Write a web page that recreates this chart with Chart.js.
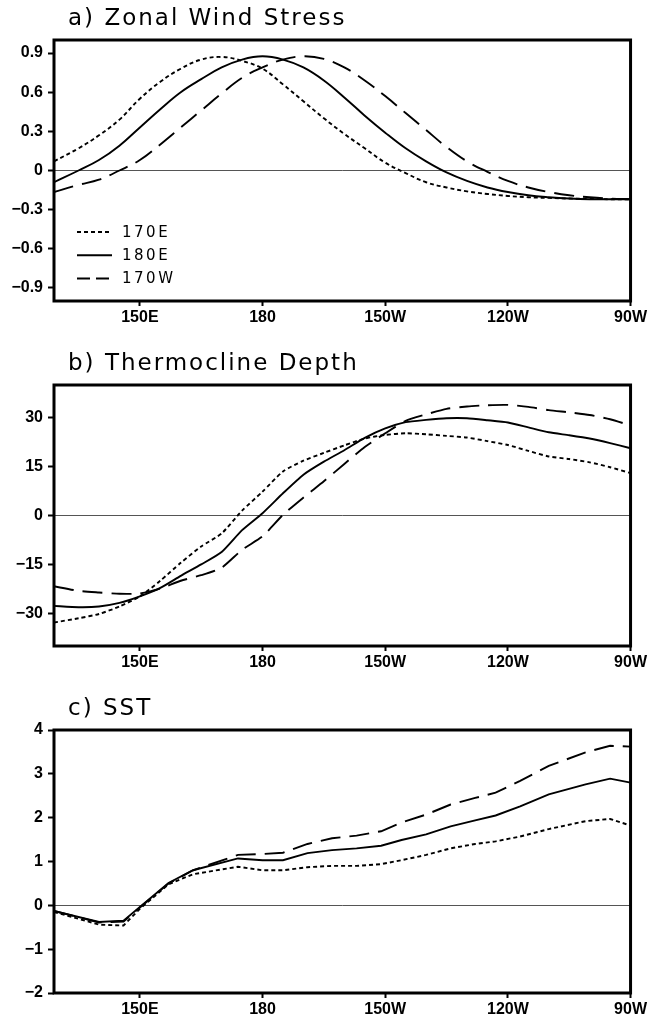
<!DOCTYPE html>
<html>
<head>
<meta charset="utf-8">
<script src="https://cdn.jsdelivr.net/npm/chart.js@4.4.1/dist/chart.umd.min.js"></script>
<style>
html, body { margin: 0; padding: 0; background: #fff; overflow: hidden; }
#wrap { position: relative; width: 649px; height: 1021px; }
canvas { position: absolute; left: 0; }
</style>
</head>
<body>
<div id="wrap">
  <canvas id="chartA" width="649" height="331" style="top:0px"></canvas>
  <canvas id="chartB" width="649" height="331" style="top:345px"></canvas>
  <canvas id="chartC" width="649" height="331" style="top:690px"></canvas>
</div>
<script>
// run names and x axis
const seriesNames = ['170E', '180E', '170W'];
const lonTicks = [150, 180, 210, 240, 270];
const lonLabels = ['150E', '180', '150W', '120W', '90W'];

// a) zonal wind stress
const lonA = [129, 135, 140, 145, 150, 155, 160, 165, 170, 175, 180, 185, 190, 195, 200,
              205, 210, 215, 220, 225, 230, 235, 240, 245, 250, 255, 260, 265, 270];
const stress170E = [0.07, 0.17, 0.27, 0.39, 0.55, 0.68, 0.78, 0.85, 0.87, 0.84, 0.78, 0.66, 0.53, 0.40, 0.28,
                    0.17, 0.06, -0.02, -0.09, -0.13, -0.16, -0.18, -0.195, -0.205, -0.21, -0.215, -0.218, -0.22, -0.22];
const stress180E = [-0.09, 0.0, 0.08, 0.19, 0.33, 0.47, 0.60, 0.70, 0.79, 0.85, 0.875, 0.85, 0.79, 0.69, 0.56,
                    0.42, 0.29, 0.17, 0.07, -0.015, -0.08, -0.13, -0.165, -0.19, -0.205, -0.215, -0.22, -0.22, -0.22];
const stress170W = [-0.165, -0.11, -0.07, 0.0, 0.08, 0.20, 0.33, 0.46, 0.59, 0.71, 0.79, 0.85, 0.875, 0.855, 0.79,
                    0.69, 0.57, 0.44, 0.31, 0.18, 0.07, -0.01, -0.08, -0.13, -0.165, -0.19, -0.205, -0.215, -0.22];
const ticksA = [-0.9, -0.6, -0.3, 0, 0.3, 0.6, 0.9];

// b) thermocline depth
const lonB = lonA;
const depth170E = [-32.8, -31.5, -30.2, -27.9, -24.8, -20.0, -14.5, -9.5, -5.5, 1.5, 7.3, 13.5, 16.8, 19.2, 21.5,
                   23.6, 24.7, 25.2, 24.9, 24.4, 23.9, 22.8, 21.6, 19.8, 18.1, 17.3, 16.3, 14.8, 13.0];
const depth180E = [-27.7, -28.1, -27.9, -26.8, -24.8, -22.2, -18.5, -15.0, -11.2, -4.5, 0.7, 6.8, 12.5, 16.5, 20.0,
                   23.8, 26.7, 28.6, 29.3, 29.8, 29.8, 29.2, 28.5, 27.0, 25.5, 24.6, 23.6, 22.2, 20.6];
const depth170W = [-21.7, -23.1, -23.6, -24.0, -23.9, -22.4, -20.0, -18.3, -16.0, -10.5, -6.4, 0.2, 5.5, 10.5, 15.8,
                   21.0, 25.2, 29.0, 31.0, 32.7, 33.4, 33.8, 33.9, 33.3, 32.3, 31.6, 30.8, 29.5, 27.6];
const ticksB = [-30, -15, 0, 15, 30];

// c) SST
const lonC = [129, 140, 146, 150, 157, 163, 174, 180, 185, 191, 197, 203, 209, 214, 220, 226, 232, 237, 243, 250, 259, 265, 270];
const sst170E = [-0.15, -0.44, -0.46, -0.08, 0.48, 0.71, 0.88, 0.80, 0.80, 0.87, 0.90, 0.90, 0.94, 1.03, 1.15, 1.30, 1.40, 1.46, 1.57, 1.74, 1.92, 1.97, 1.82];
const sst180E = [-0.13, -0.38, -0.35, -0.04, 0.51, 0.80, 1.07, 1.03, 1.03, 1.19, 1.26, 1.30, 1.36, 1.49, 1.62, 1.80, 1.94, 2.05, 2.26, 2.53, 2.76, 2.89, 2.80];
const sst170W = [-0.13, -0.39, -0.37, -0.05, 0.50, 0.80, 1.15, 1.17, 1.20, 1.40, 1.53, 1.59, 1.69, 1.89, 2.07, 2.30, 2.45, 2.57, 2.84, 3.18, 3.49, 3.64, 3.62];
const ticksC = [-2, -1, 0, 1, 2, 3, 4];

const dashes = [[4, 3], [], [20, 9]];
const legendDashes = [[4, 3], [], [13, 6]];

// box, title and legend drawn on top of the chart area
const framePlugin = {
    id: 'frame',
    afterDraw(chart, args, opts) {
        const ctx = chart.ctx;
        const a = chart.chartArea;
        ctx.save();
        ctx.lineWidth = 3;
        ctx.strokeStyle = '#000';
        ctx.strokeRect(a.left, a.top, a.right - a.left, a.bottom - a.top);

        ctx.fillStyle = '#000';
        ctx.font = '23px "DejaVu Sans"';
        ctx.letterSpacing = '2px';
        ctx.textAlign = 'left';
        ctx.textBaseline = 'alphabetic';
        ctx.fillText(opts.title, a.left + 14, a.top - 15);

        if (opts.legend) {
            ctx.font = '15px "DejaVu Sans"';
            ctx.letterSpacing = '2.5px';
            ctx.textBaseline = 'middle';
            seriesNames.forEach((name, i) => {
                const y = a.top + 192 + i * 23.3;
                ctx.beginPath();
                ctx.setLineDash(legendDashes[i]);
                ctx.lineWidth = 2;
                ctx.moveTo(a.left + 23, y);
                ctx.lineTo(a.left + 58, y);
                ctx.stroke();
                ctx.setLineDash([]);
                ctx.fillText(name, a.left + 68, y + 1);
            });
        }
        ctx.restore();
    }
};

function makePanel(id, title, lons, series, yMin, yMax, yTicks, xAxisH, tension, showLegend) {
    const datasets = series.map((vals, i) => ({
        label: seriesNames[i],
        data: lons.map((lon, j) => ({ x: lon, y: vals[j] })),
        borderColor: '#000',
        borderWidth: 1.9,
        borderDash: dashes[i],
        pointRadius: 0,
        tension: tension,
        fill: false
    }));

    return new Chart(document.getElementById(id), {
        type: 'line',
        data: { datasets: datasets },
        options: {
            responsive: false,
            animation: false,
            devicePixelRatio: 1,
            layout: { padding: { top: 40, right: 16, left: 0, bottom: 0 } },
            plugins: {
                legend: { display: false },
                tooltip: { enabled: false },
                frame: { title: title, legend: showLegend }
            },
            scales: {
                x: {
                    type: 'linear',
                    min: 129,
                    max: 270,
                    afterBuildTicks: s => { s.ticks = lonTicks.map(v => ({ value: v })); },
                    afterFit: s => { s.height = xAxisH; },
                    border: { display: false },
                    grid: { drawOnChartArea: false, tickLength: 5, tickColor: '#000', tickWidth: 2 },
                    ticks: {
                        color: '#000',
                        padding: 2,
                        maxRotation: 0,
                        autoSkip: false,
                        font: { family: '"Liberation Sans", Arial, sans-serif', size: 16, weight: 'bold' },
                        callback: v => lonLabels[lonTicks.indexOf(v)]
                    }
                },
                y: {
                    min: yMin,
                    max: yMax,
                    afterBuildTicks: s => { s.ticks = yTicks.map(v => ({ value: v })); },
                    afterFit: s => { s.width = 54; },
                    border: { display: false },
                    grid: {
                        color: c => (c.tick && c.tick.value === 0) ? '#555' : 'rgba(0,0,0,0)',
                        lineWidth: 1,
                        tickLength: 6,
                        tickColor: '#000',
                        tickWidth: 2
                    },
                    ticks: {
                        color: '#000',
                        padding: 5,
                        autoSkip: false,
                        font: { family: '"Liberation Sans", Arial, sans-serif', size: 16, weight: 'bold' },
                        callback: v => String(v).replace('-', '\u2212')
                    }
                }
            }
        },
        plugins: [framePlugin]
    });
}

makePanel('chartA', 'a) Zonal Wind Stress', lonA, [stress170E, stress180E, stress170W], -1, 1, ticksA, 30, 0.4, true);
makePanel('chartB', 'b) Thermocline Depth', lonB, [depth170E, depth180E, depth170W], -40, 40, ticksB, 30, 0.2, false);
makePanel('chartC', 'c) SST', lonC, [sst170E, sst180E, sst170W], -2, 4, ticksC, 28, 0, false);
</script>
</body>
</html>
